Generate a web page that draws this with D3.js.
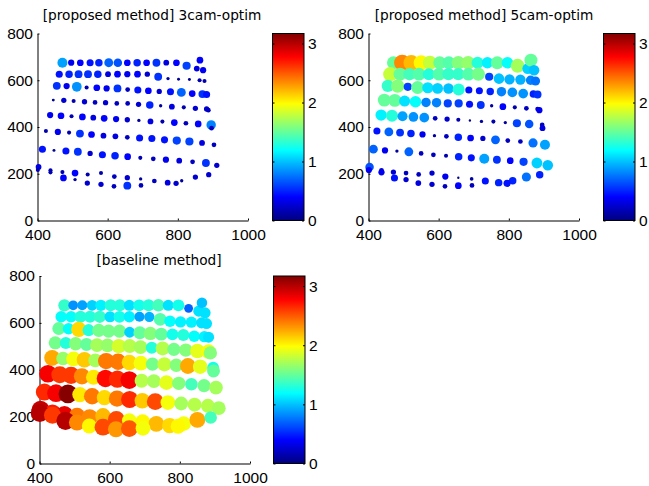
<!DOCTYPE html>
<html>
<head>
<meta charset="utf-8">
<script src="https://cdn.jsdelivr.net/npm/d3@7"></script>
<style>
  body { margin: 0; background: #fff; }
  svg { display: block; }
</style>
</head>
<body>
<svg id="fig" width="649" height="486"></svg>
<script>
// marker positions (same calibration points in every panel), one line per grid row
const ptX = [
  471, 496, 522, 550, 575, 603, 629, 656, 684, 711, 739, 767, 796, 825, 854, 863, 872,
  462, 490, 517, 544, 572, 601, 628, 656, 685, 713, 744, 772, 802, 833, 862, 876,
  455, 483, 512, 540, 569, 597, 628, 657, 686, 716, 747, 779, 810, 841, 870, 882,
  445, 475, 503, 534, 564, 594, 626, 657, 688, 720, 751, 783, 817, 850, 882, 887,
  436, 467, 497, 528, 559, 590, 624, 656, 689, 722, 756, 790, 823, 858, 895, 896,
  424, 458, 490, 521, 554, 588, 622, 656, 691, 726, 762, 797, 833, 869, 903,
  414, 447, 481, 515, 550, 585, 621, 657, 693, 730, 766, 804, 842, 880, 911,
  403, 437, 471, 507, 543, 581, 619, 656, 694, 733, 771, 811, 850, 888,
  401, 437, 474, 507, 542, 581, 618, 656, 695, 795
];
const ptY = [
  675, 675, 675, 675, 675, 675, 675, 675, 675, 675, 675, 675, 675, 662, 650, 686, 643,
  626, 626, 626, 626, 626, 626, 626, 626, 626, 626, 615, 607, 604, 603, 600, 597,
  576, 575, 572, 569, 568, 565, 565, 560, 558, 555, 552, 551, 548, 543, 541, 539,
  515, 514, 511, 508, 505, 504, 501, 501, 497, 494, 491, 487, 484, 480, 477, 472,
  451, 448, 446, 443, 440, 437, 434, 431, 428, 424, 423, 419, 416, 413, 409, 395,
  383, 379, 376, 372, 368, 363, 360, 356, 353, 351, 345, 342, 338, 332, 324,
  305, 300, 297, 294, 287, 281, 277, 273, 268, 264, 260, 256, 251, 246, 236,
  229, 215, 207, 203, 197, 203, 188, 183, 178, 169, 162, 170, 186, 196,
  216, 206, 182, 175, 160, 155, 146, 149, 150, 159
];

// error per point, one array per method
const err3cam = [
  .9, .35, .4, .45, .5, .7, .65, .4, .5, .4, .55, .3, .4, .6, .3, .4, .35,
  .45, .5, .55, .55, .5, .3, .4, .35, .4, .25, .55, .1, .08, .08, .15, .15,
  .55, .35, .85, .15, .4, .35, .55, .2, .45, .4, .25, .45, .7, .4, .55, .45,
  .08, .25, .15, .25, .2, .25, .2, .2, .25, .5, .1, .3, .15, .25, .25, .2,
  .35, .4, .15, .4, .3, .4, .35, .25, .1, .3, .15, .4, .2, .4, .8, .2,
  .15, .35, .15, .55, .4, .3, .3, .2, .45, .45, .45, .6, .6, .3, .2,
  .45, .08, .45, .55, .25, .45, .5, .4, .15, .2, .35, .3, .2, .55, .25,
  .3, .15, .15, .4, .15, .15, .2, .25, .1, .2, .3, .1, .25, .25,
  .15, .15, .4, .1, .25, .25, .2, .55, .2, .25
];
const err5cam = [
  1.5, 2.35, 2.2, 2.0, 1.8, 1.5, 1.45, 1.6, 1.65, 1.3, 1.15, 1.5, 1.2, 1.7, 1.05, 1.5, 1.0,
  1.8, 1.5, 1.4, 1.45, 1.3, 1.45, 1.35, 1.35, 1.45, 1.55, .6, 1.0, .95, .95, .8, .75,
  1.35, 1.6, .6, 1.5, 1.1, 1.05, 1.0, 1.3, .45, .45, .5, .8, .85, .85, .5, .55,
  1.5, 1.5, 1.1, 1.2, .8, .8, .6, .6, .45, .55, .1, .4, .15, .2, .2, .35,
  1.15, 1.3, .9, .85, .85, .2, .25, .15, .05, .1, .15, .1, .6, .65, .2, .3,
  .45, .7, .55, .5, .35, .1, .2, .5, .4, .25, .7, .2, .2, .75, .9,
  .7, .35, .1, .7, .2, .2, .15, .5, .45, .9, .55, .4, .6, 1.05, 1.0,
  .65, .2, .25, .2, .2, .25, .35, .05, .12, .45, .5, .5, .75, .5,
  .35, .35, .45, .25, .3, .25, .2, .4, .2, .45
];
const errBaseline = [
  1.35, .85, .9, 1.05, 1.15, 1.3, 1.3, 1.1, 1.25, 1.3, 1.4, 1.1, 1.25, .7, 1.1, 1.0, 1.1,
  1.2, 1.2, 1.3, 1.3, 1.35, 1.1, 1.25, 1.15, .9, .95, 1.45, 1.2, 1.15, 1.15, 1.1, 1.1,
  1.5, 1.2, 2.1, 1.3, 1.55, 1.55, 1.55, 1.05, 1.5, 1.6, 1.5, 1.25, 1.3, 1.2, 1.15, 1.1,
  1.55, 1.3, 1.6, 1.5, 1.7, 1.65, 1.85, 1.75, 1.7, 1.3, 1.75, 1.55, 1.6, 1.9, 1.95, 1.6,
  2.25, 1.65, 1.95, 2.15, 1.7, 2.4, 2.4, 2.1, 1.95, 1.55, 1.8, 1.6, 2.25, 1.9, 1.25, 1.5,
  2.8, 2.6, 2.6, 2.35, 2.05, 2.75, 2.65, 2.8, 1.75, 1.7, 1.9, 1.6, 1.4, 1.55, 1.7,
  2.65, 2.8, 3.15, 2.05, 2.4, 2.1, 2.4, 2.65, 2.15, 2.55, 1.95, 1.7, 1.75, 1.75, 1.7,
  2.95, 2.7, 2.85, 2.4, 2.35, 2.2, 2.55, 1.95, 2.0, 2.2, 2.1, 1.95, 2.25, 1.4,
  3.0, 2.6, 3.0, 2.35, 2.0, 2.55, 2.3, 2.5, 1.95, 2.0
];

const titles = ["[proposed method] 3cam-optim", "[proposed method] 5cam-optim", "[baseline method]"];
const xTicks = [400, 600, 800, 1000];
const yTicks = [0, 200, 400, 600, 800];
const cTicks = [0, 1, 2, 3];
const cMax = 3.17;

const tickFont = "'Liberation Sans', Arial, sans-serif";
const titleFont = "'DejaVu Sans', sans-serif";

// layout of each subplot (pixels)
const panels = [
  { vals: err3cam,     x0: 37.5,  x1: 248, y0: 220.5, y1: 33.5, cb0: 272.5, cb1: 304, tx: 152, ty: 20 },
  { vals: err5cam,     x0: 368.5, x1: 579, y0: 220.5, y1: 33.5, cb0: 603.5, cb1: 635, tx: 484, ty: 20 },
  { vals: errBaseline, x0: 39.5,  x1: 250, y0: 463.5, y1: 276,  cb0: 273.5, cb1: 305, tx: 159, ty: 265 }
];

// matlab jet
const clamp = v => Math.max(0, Math.min(1, v));
const jet = t => d3.rgb(
  255 * clamp(1.5 - Math.abs(4 * t - 3)),
  255 * clamp(1.5 - Math.abs(4 * t - 2)),
  255 * clamp(1.5 - Math.abs(4 * t - 1))
).toString();

const color = d3.scaleSequential(jet).domain([0, cMax]);
// marker area grows with the error
const radius = d3.scaleSqrt().domain([0, cMax]).range([0, 9.4]);

const svg = d3.select("#fig");

const grad = svg.append("defs").append("linearGradient")
  .attr("id", "jet")
  .attr("x1", 0).attr("y1", 1).attr("x2", 0).attr("y2", 0);
grad.selectAll("stop")
  .data(d3.range(65))
  .join("stop")
  .attr("offset", i => i / 64)
  .attr("stop-color", i => jet(i / 64));

function styleAxis(g) {
  g.attr("font-family", tickFont).attr("font-size", 15.5);
  g.selectAll("text").attr("fill", "#000");
  g.selectAll("line, path").attr("stroke", "#000");
}

const fmt = d3.format("d");

panels.forEach((p, k) => {
  const x = d3.scaleLinear().domain([400, 1000]).range([p.x0, p.x1]);
  const y = d3.scaleLinear().domain([0, 800]).range([p.y0, p.y1]);
  const g = svg.append("g");

  g.append("g")
    .attr("transform", `translate(0,${p.y0})`)
    .call(d3.axisBottom(x).tickValues(xTicks).tickFormat(fmt).tickSize(-2).tickSizeOuter(0).tickPadding(8))
    .call(styleAxis);

  g.append("g")
    .attr("transform", `translate(${p.x0},0)`)
    .call(d3.axisLeft(y).tickValues(yTicks).tickFormat(fmt).tickSize(-2).tickSizeOuter(0).tickPadding(4.5))
    .call(styleAxis);

  g.append("text")
    .attr("x", p.tx)
    .attr("y", p.ty)
    .attr("text-anchor", "middle")
    .attr("font-family", titleFont)
    .attr("font-size", 13.7)
    .text(titles[k]);

  g.append("g")
    .selectAll("circle")
    .data(d3.range(ptX.length))
    .join("circle")
    .attr("cx", i => x(ptX[i]))
    .attr("cy", i => y(ptY[i]))
    .attr("r", i => radius(p.vals[i]))
    .attr("fill", i => color(p.vals[i]));

  // colorbar
  const cy = d3.scaleLinear().domain([0, cMax]).range([p.y0, p.y1]);
  g.append("rect")
    .attr("x", p.cb0)
    .attr("y", p.y1)
    .attr("width", p.cb1 - p.cb0)
    .attr("height", p.y0 - p.y1)
    .attr("fill", "url(#jet)")
    .attr("stroke", "#000");

  g.append("g")
    .attr("transform", `translate(${p.cb1},0)`)
    .call(d3.axisRight(cy).tickValues(cTicks).tickFormat(fmt).tickSize(-2).tickSizeOuter(0).tickPadding(4))
    .call(styleAxis)
    .call(a => a.select(".domain").remove());

  g.append("g")
    .attr("transform", `translate(${p.cb0},0)`)
    .call(d3.axisLeft(cy).tickValues(cTicks).tickSize(-2).tickSizeOuter(0).tickFormat(""))
    .call(styleAxis)
    .call(a => a.select(".domain").remove());
});
</script>
</body>
</html>
